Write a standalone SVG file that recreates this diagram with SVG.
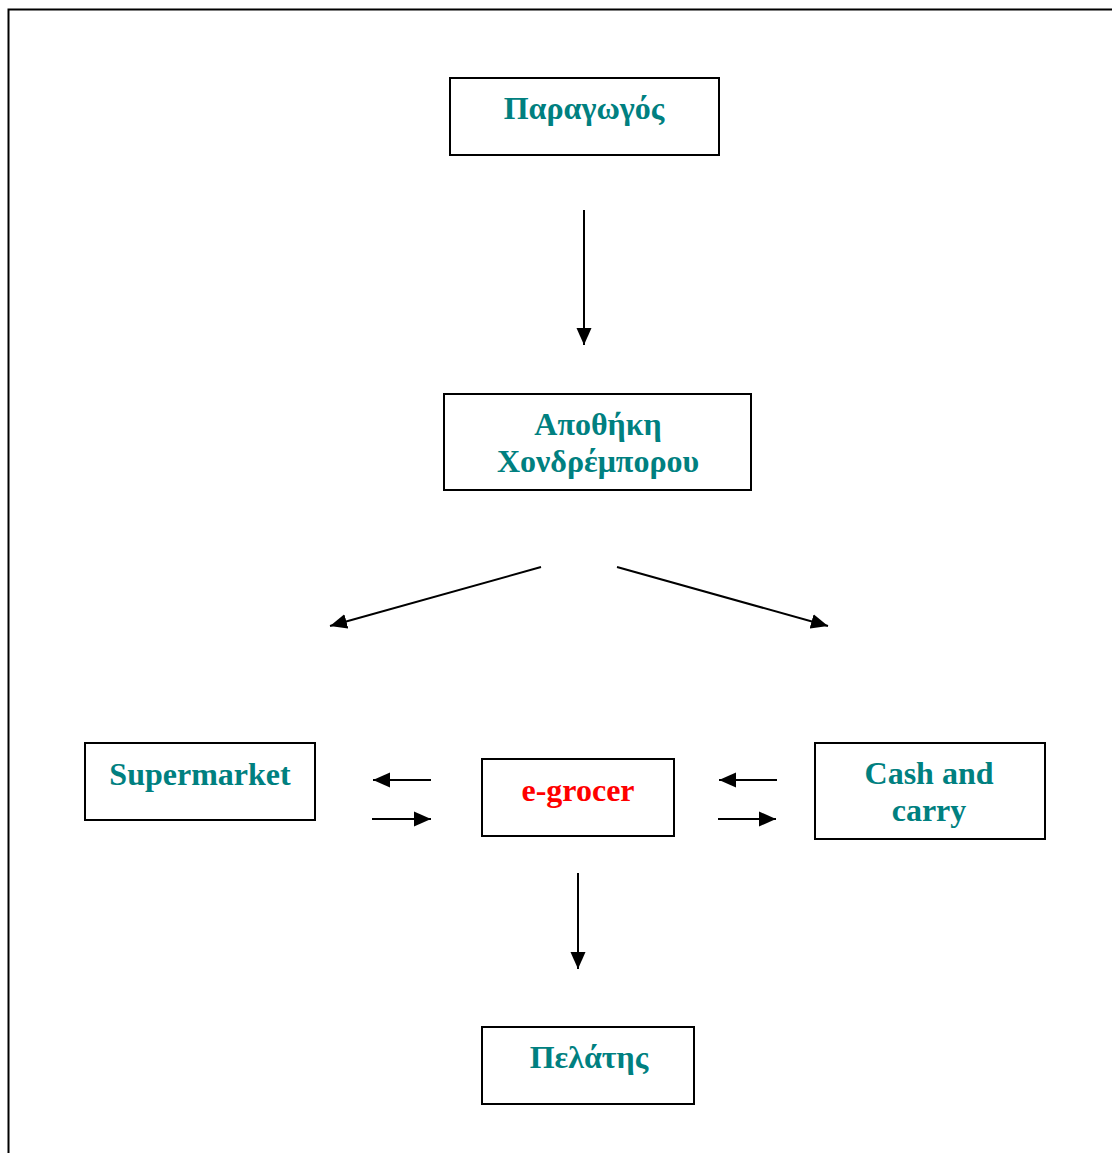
<svg xmlns="http://www.w3.org/2000/svg" width="1112" height="1153" viewBox="0 0 1112 1153">
  <style>
    .box { fill: #ffffff; stroke: #000000; stroke-width: 2; }
    .lbl { font-family: "Liberation Serif", "Times New Roman", serif; font-weight: bold; font-size: 32px; fill: #008080; text-anchor: middle; }
    .red { fill: #ff0000; }
    .conn line { stroke: #000000; stroke-width: 2; marker-end: url(#head); }
  </style>
  <defs>
    <marker id="head" markerUnits="userSpaceOnUse" markerWidth="17" markerHeight="16" refX="17" refY="8" orient="auto">
      <path d="M0,0.5 L17,8 L0,15.5 Z" fill="#000000"/>
    </marker>
  </defs>

  <rect width="1112" height="1153" fill="#ffffff"/>

  <!-- outer frame (open to the right and bottom) -->
  <path d="M8.5,1153 L8.5,9.5 L1112,9.5" fill="none" stroke="#000000" stroke-width="2"/>

  <g id="producer">
    <rect class="box" x="450" y="78" width="269" height="77"/>
    <text class="lbl" x="584" y="119">Παραγωγός</text>
  </g>

  <g id="wholesaler">
    <rect class="box" x="444" y="394" width="307" height="96"/>
    <text class="lbl" x="598" y="435">Αποθήκη</text>
    <text class="lbl" x="598" y="472">Χονδρέμπορου</text>
  </g>

  <g id="supermarket">
    <rect class="box" x="85" y="743" width="230" height="77"/>
    <text class="lbl" x="200" y="785">Supermarket</text>
  </g>

  <g id="egrocer">
    <rect class="box" x="482" y="759" width="192" height="77"/>
    <text class="lbl red" x="578" y="801">e-grocer</text>
  </g>

  <g id="cashcarry">
    <rect class="box" x="815" y="743" width="230" height="96"/>
    <text class="lbl" x="929" y="784">Cash and</text>
    <text class="lbl" x="929" y="821">carry</text>
  </g>

  <g id="customer">
    <rect class="box" x="482" y="1027" width="212" height="77"/>
    <text class="lbl" x="589" y="1068">Πελάτης</text>
  </g>

  <g id="connectors" class="conn">
    <line x1="584" y1="210" x2="584" y2="345"/>
    <line x1="541" y1="567" x2="330" y2="626"/>
    <line x1="617" y1="567" x2="828" y2="626"/>
    <line x1="431" y1="780" x2="373" y2="780"/>
    <line x1="372" y1="819" x2="431" y2="819"/>
    <line x1="777" y1="780" x2="719" y2="780"/>
    <line x1="718" y1="819" x2="776" y2="819"/>
    <line x1="578" y1="873" x2="578" y2="969"/>
  </g>
</svg>
